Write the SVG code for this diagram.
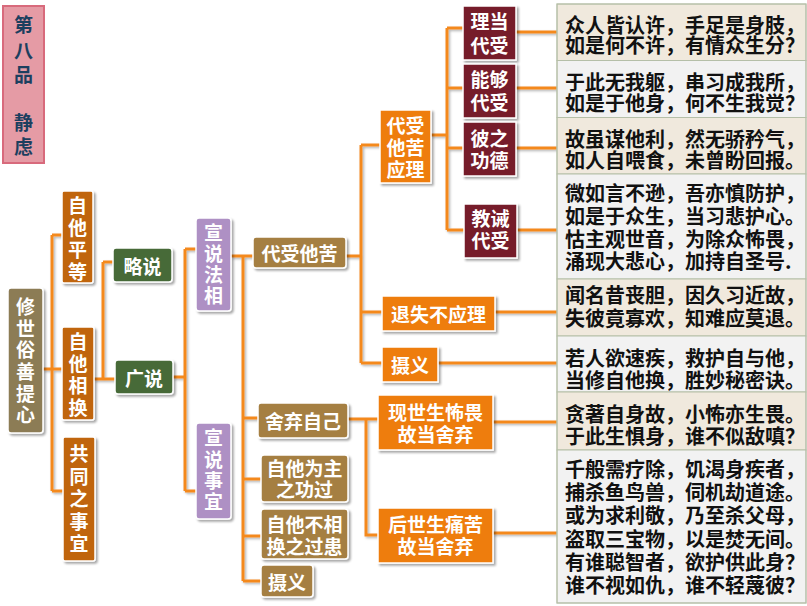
<svg xmlns="http://www.w3.org/2000/svg" width="807" height="606" viewBox="0 0 807 606">
<defs>
<filter id="sh" x="-20%" y="-20%" width="140%" height="140%">
<feDropShadow dx="2" dy="2" stdDeviation="1.2" flood-color="#000" flood-opacity="0.35"/>
</filter>
<filter id="lsh" x="-5%" y="-5%" width="110%" height="110%">
<feDropShadow dx="1.5" dy="1.5" stdDeviation="0.8" flood-color="#000" flood-opacity="0.3"/>
</filter>
<style>
text{font-family:"Noto Sans CJK SC","Noto Sans",sans-serif;font-weight:bold;}
.n text{fill:#fff;font-size:19px;text-anchor:middle;dominant-baseline:central;}
.n rect{stroke:#fff;stroke-width:1.5;filter:url(#sh);}
.root{fill:#8c7b55;}
.l1{fill:#c0650e;}
.l2{fill:#466b39;}
.l3{fill:#ae90c4;}
.l4{fill:#a57f42;}
.l5{fill:#ee7d0c;}
.l6{fill:#761d2a;}
#conn path{fill:none;stroke:#f4891f;stroke-width:3;}
.tb rect{stroke:#b5bfa8;stroke-width:1;}
.be{fill:#f0e9dd;}
.gr{fill:#f2f2f2;}
.tb text{fill:#111;font-size:20px;dominant-baseline:central;}
</style>
</defs>
<rect width="807" height="606" fill="#fff"/>

<g id="title">
<rect x="3" y="6" width="41" height="157" fill="#e59ba5" stroke="#d86a7c" stroke-width="2"/>
<text fill="#1c3f5f" font-size="19" text-anchor="middle" dominant-baseline="central"><tspan x="23.5" y="23">第</tspan><tspan x="23.5" y="49">八</tspan><tspan x="23.5" y="73">品</tspan><tspan x="23.5" y="121">静</tspan><tspan x="23.5" y="145">虑</tspan></text>
</g>

<g id="conn" filter="url(#lsh)">
<path d="M43,369H62M52,235V491M52,235H62M52,491H63"/>
<path d="M94,379H115M103,262V379M103,262H113"/>
<path d="M173,377H185M185,249V491M185,249H196M185,491H196"/>
<path d="M231,256H253M243,256V581M243,418H258M243,479H261M243,536H261M243,581H261"/>
<path d="M346,256H361M361,145V363M361,145H380M361,312H382M361,363H382"/>
<path d="M348,419H378M366,419V535H378"/>
<path d="M431,135H447M447,28V230M447,28H463M447,88H463M447,148H463M447,230H464"/>
<path d="M516,32H557M516,88H557M516,148H557M517,230H557"/>
<path d="M495,312H557M438,363H557M493,422H557M493,533H557"/>
</g>

<g id="root" class="n">
<rect class="root" x="8" y="288" width="35" height="145" rx="3"/>
<text><tspan x="25.5" y="305">修</tspan><tspan x="25.5" y="326.5">世</tspan><tspan x="25.5" y="348">俗</tspan><tspan x="25.5" y="370">善</tspan><tspan x="25.5" y="391.5">提</tspan><tspan x="25.5" y="413">心</tspan></text>
</g>

<g id="n-zitapingdeng" class="n">
<rect class="l1" x="62" y="191" width="31" height="92" rx="2"/>
<text font-size="20"><tspan x="77.5" y="204">自</tspan><tspan x="77.5" y="226">他</tspan><tspan x="77.5" y="248">平</tspan><tspan x="77.5" y="270">等</tspan></text>
</g>
<g id="n-zitaxianghuan" class="n">
<rect class="l1" x="62" y="327" width="32" height="93" rx="2"/>
<text font-size="20"><tspan x="78" y="340">自</tspan><tspan x="78" y="362">他</tspan><tspan x="78" y="384">相</tspan><tspan x="78" y="406">换</tspan></text>
</g>
<g id="n-gongtong" class="n">
<rect class="l1" x="63" y="437" width="32" height="124" rx="2"/>
<text font-size="20"><tspan x="79" y="452">共</tspan><tspan x="79" y="474.5">同</tspan><tspan x="79" y="497">之</tspan><tspan x="79" y="519.5">事</tspan><tspan x="79" y="542">宜</tspan></text>
</g>

<g id="n-lueshuo" class="n">
<rect class="l2" x="113" y="248" width="59" height="34" rx="3"/>
<text x="142.5" y="265">略说</text>
</g>
<g id="n-guangshuo" class="n">
<rect class="l2" x="115" y="360" width="58" height="34" rx="3"/>
<text x="144" y="377">广说</text>
</g>

<g id="n-faxiang" class="n">
<rect class="l3" x="196" y="218" width="35" height="93" rx="3"/>
<text><tspan x="213.5" y="231">宣</tspan><tspan x="213.5" y="252">说</tspan><tspan x="213.5" y="273">法</tspan><tspan x="213.5" y="294">相</tspan></text>
</g>
<g id="n-shiyi" class="n">
<rect class="l3" x="196" y="423" width="35" height="96" rx="3"/>
<text><tspan x="213.5" y="436">宣</tspan><tspan x="213.5" y="457.5">说</tspan><tspan x="213.5" y="479">事</tspan><tspan x="213.5" y="500">宜</tspan></text>
</g>

<g id="n-daishou" class="n">
<rect class="l4" x="253" y="237" width="93" height="31" rx="3"/>
<text x="299.5" y="252.5" font-size="20">代受他苦</text>
</g>
<g id="n-sheqi" class="n">
<rect class="l4" x="258" y="403" width="90" height="35" rx="3"/>
<text x="303" y="420" font-size="20">舍弃自己</text>
</g>
<g id="n-gongguo" class="n">
<rect class="l4" x="261" y="455" width="87" height="47" rx="3"/>
<text><tspan x="304.5" y="467">自他为主</tspan><tspan x="304.5" y="488">之功过</tspan></text>
</g>
<g id="n-guohuan" class="n">
<rect class="l4" x="261" y="509" width="87" height="50" rx="3"/>
<text><tspan x="304.5" y="523">自他不相</tspan><tspan x="304.5" y="545">换之过患</tspan></text>
</g>
<g id="n-sheyi1" class="n">
<rect class="l4" x="261" y="565" width="52" height="32" rx="3"/>
<text x="287" y="581" font-size="20">摄义</text>
</g>

<g id="n-yingli" class="n">
<rect class="l5" x="380" y="110" width="51" height="73"/>
<text><tspan x="405.5" y="124">代受</tspan><tspan x="405.5" y="146">他苦</tspan><tspan x="405.5" y="168">应理</tspan></text>
</g>
<g id="n-tuishi" class="n">
<rect class="l5" x="382" y="296" width="113" height="35"/>
<text x="438.5" y="313" font-size="20">退失不应理</text>
</g>
<g id="n-sheyi2" class="n">
<rect class="l5" x="382" y="347" width="56" height="35"/>
<text x="410" y="364.5" font-size="20">摄义</text>
</g>
<g id="n-xianshi" class="n">
<rect class="l5" x="378" y="395" width="115" height="55"/>
<text><tspan x="435.5" y="411">现世生怖畏</tspan><tspan x="435.5" y="433">故当舍弃</tspan></text>
</g>
<g id="n-houshi" class="n">
<rect class="l5" x="378" y="508" width="115" height="55"/>
<text><tspan x="435.5" y="523">后世生痛苦</tspan><tspan x="435.5" y="545">故当舍弃</tspan></text>
</g>

<g id="n-lidang" class="n">
<rect class="l6" x="463" y="6" width="53" height="54"/>
<text font-size="20"><tspan x="489.5" y="20">理当</tspan><tspan x="489.5" y="44">代受</tspan></text>
</g>
<g id="n-nenggou" class="n">
<rect class="l6" x="463" y="64" width="53" height="54"/>
<text font-size="20"><tspan x="489.5" y="78">能够</tspan><tspan x="489.5" y="101">代受</tspan></text>
</g>
<g id="n-gongde" class="n">
<rect class="l6" x="463" y="122" width="53" height="54"/>
<text font-size="20"><tspan x="489.5" y="137">彼之</tspan><tspan x="489.5" y="159">功德</tspan></text>
</g>
<g id="n-jiaojie" class="n">
<rect class="l6" x="464" y="204" width="53" height="54"/>
<text font-size="20"><tspan x="490.5" y="217">教诫</tspan><tspan x="490.5" y="239">代受</tspan></text>
</g>

<g id="textboxes" class="tb">
<rect class="be" x="557" y="4" width="249" height="56.5"/>
<rect class="gr" x="557" y="60.5" width="249" height="57"/>
<rect class="be" x="557" y="117.5" width="249" height="56.5"/>
<rect class="gr" x="557" y="174" width="249" height="105"/>
<rect class="be" x="557" y="279" width="249" height="57"/>
<rect class="gr" x="557" y="336" width="249" height="56"/>
<rect class="be" x="557" y="392" width="249" height="58"/>
<rect class="gr" x="557" y="450" width="249" height="153"/>
<rect x="557" y="4" width="249" height="599" fill="none" stroke="#6a9a4a" stroke-width="1.5"/>
<text><tspan x="565" y="23.5">众人皆认许，手足是身肢，</tspan><tspan x="565" y="44">如是何不许，有情众生分？</tspan></text>
<text><tspan x="565" y="81">于此无我躯，串习成我所，</tspan><tspan x="565" y="102">如是于他身，何不生我觉？</tspan></text>
<text><tspan x="565" y="137.5">故虽谋他利，然无骄矜气，</tspan><tspan x="565" y="159">如人自喂食，未曾盼回报。</tspan></text>
<text><tspan x="565" y="192">微如言不逊，吾亦慎防护，</tspan><tspan x="565" y="215">如是于众生，当习悲护心。</tspan><tspan x="565" y="237.5">怙主观世音，为除众怖畏，</tspan><tspan x="565" y="260">涌现大悲心，加持自圣号.</tspan></text>
<text><tspan x="565" y="294">闻名昔丧胆，因久习近故，</tspan><tspan x="565" y="316.5">失彼竟寡欢，知难应莫退。</tspan></text>
<text><tspan x="565" y="357">若人欲速疾，救护自与他，</tspan><tspan x="565" y="379">当修自他换，胜妙秘密诀。</tspan></text>
<text><tspan x="565" y="412.5">贪著自身故，小怖亦生畏。</tspan><tspan x="565" y="435">于此生惧身，谁不似敌嗔？</tspan></text>
<text><tspan x="565" y="467.5">千般需疗除，饥渴身疾者，</tspan><tspan x="565" y="491">捕杀鱼鸟兽，伺机劫道途。</tspan><tspan x="565" y="514">或为求利敬，乃至杀父母，</tspan><tspan x="565" y="537.5">盗取三宝物，以是焚无间。</tspan><tspan x="565" y="561">有谁聪智者，欲护供此身？</tspan><tspan x="565" y="584">谁不视如仇，谁不轻蔑彼？</tspan></text>
</g>
</svg>
